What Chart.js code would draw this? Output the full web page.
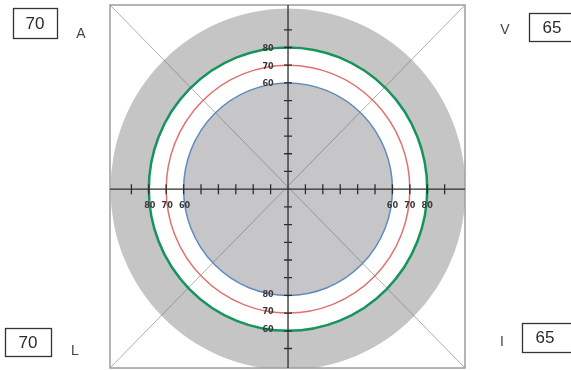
<!DOCTYPE html>
<html>
<head>
<meta charset="utf-8">
<script src="https://cdn.jsdelivr.net/npm/chart.js@4"></script>
<style>
  html, body { margin: 0; padding: 0; background: #ffffff; }
  canvas { display: block; }
</style>
</head>
<body>
<canvas id="field" width="571" height="370"></canvas>
<script>
// Isopter rings (value on the axis scale) and their colours
const ringValues = [80, 70, 60];
const ringColors = ['#16955a', '#e0716f', '#5f8bc0'];
const ringWidths = [2.5, 1.5, 1.5];
// Outer shaded field boundary
const outerValue = 102;
// Tick marks along both axes
const tickValues = [-90, -80, -70, -60, -50, -40, -30, -20, -10, 10, 20, 30, 40, 50, 60, 70, 80, 90];
// Axis labels at the ring crossings
const leftLabels = ['80', '70', '60'];   // for rings 80, 70, 60
const rightLabels = ['60', '70', '80'];  // for rings 60, 70, 80
const topLabels = ['80', '70', '60'];    // for rings 80, 70, 60
const bottomLabels = ['80', '70', '60']; // for rings 60, 70, 80
// Corner boxes
const cornerNames = ['A', 'V', 'L', 'I'];
const cornerValues = [70, 65, 70, 65];

function ellipse(ctx, xs, ys, v) {
  const cx = xs.getPixelForValue(0), cy = ys.getPixelForValue(0);
  const rx = xs.getPixelForValue(v) - cx;
  const ry = cy - ys.getPixelForValue(v);
  ctx.beginPath();
  ctx.ellipse(cx, cy, rx, ry, 0, 0, Math.PI * 2);
}

const fieldPlugin = {
  id: 'fieldPlugin',
  beforeDatasetsDraw(chart) {
    const ctx = chart.ctx, a = chart.chartArea;
    const xs = chart.scales.x, ys = chart.scales.y;
    const cx = xs.getPixelForValue(0), cy = ys.getPixelForValue(0);
    ctx.save();
    ctx.beginPath();
    ctx.rect(a.left, a.top, a.right - a.left, a.bottom - a.top);
    ctx.clip();

    // shaded outer field
    ellipse(ctx, xs, ys, outerValue);
    ctx.fillStyle = '#c5c5c5';
    ctx.fill();
    // clear band up to the outer ring
    ellipse(ctx, xs, ys, ringValues[0]);
    ctx.fillStyle = '#ffffff';
    ctx.fill();
    // shaded inner area
    ellipse(ctx, xs, ys, ringValues[2]);
    ctx.fillStyle = '#c6c6c8';
    ctx.fill();

    // diagonals
    ctx.strokeStyle = 'rgba(110,110,110,0.55)';
    ctx.lineWidth = 1;
    ctx.beginPath();
    ctx.moveTo(a.left, a.top); ctx.lineTo(a.right, a.bottom);
    ctx.moveTo(a.right, a.top); ctx.lineTo(a.left, a.bottom);
    ctx.stroke();
    ctx.restore();

    // frame
    ctx.save();
    ctx.strokeStyle = '#9c9c9c';
    ctx.lineWidth = 1.5;
    ctx.strokeRect(a.left, a.top, a.right - a.left, a.bottom - a.top);

    // rings
    ringValues.forEach((v, i) => {
      ellipse(ctx, xs, ys, v);
      ctx.strokeStyle = ringColors[i];
      ctx.lineWidth = ringWidths[i];
      ctx.stroke();
    });

    // axes
    ctx.strokeStyle = '#2e2e2e';
    ctx.lineWidth = 1.3;
    ctx.beginPath();
    ctx.moveTo(a.left, cy); ctx.lineTo(a.right, cy);
    ctx.moveTo(cx, a.top); ctx.lineTo(cx, a.bottom);
    tickValues.forEach(t => {
      const px = xs.getPixelForValue(t);
      ctx.moveTo(px, cy - 5); ctx.lineTo(px, cy + 5);
      const py = ys.getPixelForValue(t);
      ctx.moveTo(cx - 4, py); ctx.lineTo(cx + 4, py);
    });
    ctx.stroke();

    // ring labels
    ctx.fillStyle = '#3a3a3a';
    ctx.font = 'bold 9px "Liberation Sans Narrow", "DejaVu Sans Condensed", sans-serif';
    ctx.textAlign = 'center';
    ctx.textBaseline = 'middle';
    const byOuter = [80, 70, 60];
    const byInner = [60, 70, 80];
    leftLabels.forEach((s, i) => {
      ctx.fillText(s, xs.getPixelForValue(-byOuter[i]) + 1, cy + 17);
    });
    rightLabels.forEach((s, i) => {
      ctx.fillText(s, xs.getPixelForValue(byInner[i]), cy + 17);
    });
    topLabels.forEach((s, i) => {
      ctx.fillText(s, cx - 20, ys.getPixelForValue(byOuter[i]) + 1);
    });
    bottomLabels.forEach((s, i) => {
      ctx.fillText(s, cx - 20, ys.getPixelForValue(-byInner[i]) - 1);
    });
    ctx.restore();
  },
  afterDraw(chart) {
    const ctx = chart.ctx;
    ctx.save();
    ctx.textAlign = 'center';
    ctx.textBaseline = 'middle';
    // boxes: [left, top, width, height], name position
    const boxes = [
      { box: [13, 8, 44, 30], name: [81, 34] },
      { box: [529, 13, 48, 28], name: [505, 30] },
      { box: [5, 328, 46, 28], name: [75, 351] },
      { box: [522, 323, 55, 29], name: [502, 342] }
    ];
    boxes.forEach((b, i) => {
      const [x, y, w, h] = b.box;
      ctx.strokeStyle = '#333333';
      ctx.lineWidth = 1.3;
      ctx.strokeRect(x + 0.5, y + 0.5, w, h);
      ctx.fillStyle = '#2a2a2a';
      ctx.font = '17px "Liberation Sans", Arial, sans-serif';
      const tx = i % 2 === 0 ? x + w / 2 : x + 23;
      ctx.fillText(String(cornerValues[i]), tx, y + h / 2 + 1);
      ctx.fillStyle = '#444444';
      ctx.font = '14px "Liberation Sans", Arial, sans-serif';
      ctx.fillText(cornerNames[i], b.name[0], b.name[1]);
    });
    ctx.restore();
  }
};

new Chart(document.getElementById('field'), {
  type: 'scatter',
  data: { datasets: [{ data: [], pointRadius: 0 }] },
  options: {
    responsive: false,
    animation: false,
    events: [],
    layout: { padding: { left: 110, right: 106, top: 5, bottom: 2 } },
    plugins: { legend: { display: false }, tooltip: { enabled: false } },
    scales: {
      x: { type: 'linear', display: false, min: -102.3, max: 101.7 },
      y: { type: 'linear', display: false, min: -101, max: 104 }
    }
  },
  plugins: [fieldPlugin]
});
</script>
</body>
</html>
